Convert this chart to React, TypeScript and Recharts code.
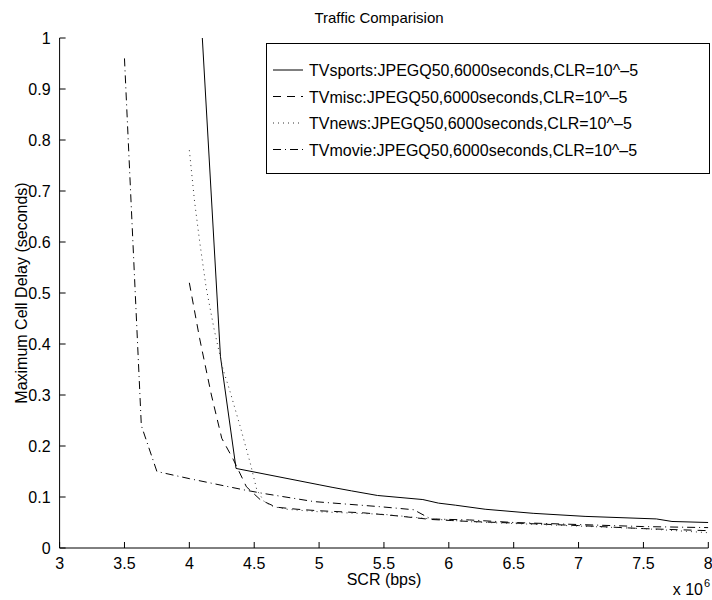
import React from 'react';
import { LineChart, Line, XAxis, YAxis, Legend, Customized } from 'recharts';

// SCR in units of 10^6 bps, delay in seconds
const sportsScr = [4.1, 4.24, 4.36, 5.0, 5.1, 5.25, 5.45, 5.8, 5.92, 6.05, 6.28, 6.65, 7.05, 7.6, 7.72, 8.0];
const sportsDelay = [1.0, 0.375, 0.156, 0.124, 0.119, 0.112, 0.103, 0.095, 0.088, 0.084, 0.076, 0.068, 0.062, 0.057, 0.052, 0.05];

const miscScr = [4.0, 4.08, 4.17, 4.25, 4.34, 4.44, 4.55, 4.67, 4.83, 5.0, 5.34, 5.6, 5.86, 6.16, 6.5, 7.0, 7.5, 8.0];
const miscDelay = [0.52, 0.41, 0.3, 0.215, 0.173, 0.12, 0.094, 0.08, 0.076, 0.073, 0.069, 0.063, 0.056, 0.052, 0.049, 0.044, 0.038, 0.034];

const newsScr = [4.0, 4.04, 4.08, 4.13, 4.19, 4.26, 4.31, 4.39, 4.47, 4.52, 4.58, 4.65, 4.75, 5.0, 5.5, 5.86, 6.2, 6.6, 7.0, 7.5, 8.0];
const newsDelay = [0.78, 0.68, 0.6, 0.51, 0.43, 0.35, 0.31, 0.24, 0.166, 0.114, 0.09, 0.081, 0.076, 0.071, 0.066, 0.057, 0.051, 0.047, 0.043, 0.038, 0.03];

const movieScr = [3.5, 3.63, 3.75, 4.0, 4.42, 4.57, 4.96, 5.47, 5.73, 5.86, 6.16, 6.5, 7.0, 7.5, 8.0];
const movieDelay = [0.96, 0.24, 0.15, 0.136, 0.114, 0.107, 0.091, 0.081, 0.075, 0.057, 0.055, 0.05, 0.046, 0.042, 0.04];

const xTicks = [3, 3.5, 4, 4.5, 5, 5.5, 6, 6.5, 7, 7.5, 8];
const yTicks = [0, 0.1, 0.2, 0.3, 0.4, 0.5, 0.6, 0.7, 0.8, 0.9, 1];

const FONT = '"Liberation Sans", Arial, Helvetica, sans-serif';
const FS = 16;

const zip = (xs: number[], ys: number[]) => xs.map((scr, i) => ({ scr, delay: ys[i] }));

const series = [
  { name: 'TVsports:JPEGQ50,6000seconds,CLR=10^\u20135', data: zip(sportsScr, sportsDelay), dash: undefined, color: '#000' },
  { name: 'TVmisc:JPEGQ50,6000seconds,CLR=10^\u20135', data: zip(miscScr, miscDelay), dash: '8 6', color: '#000' },
  { name: 'TVnews:JPEGQ50,6000seconds,CLR=10^\u20135', data: zip(newsScr, newsDelay), dash: '1 4', color: '#333' },
  { name: 'TVmovie:JPEGQ50,6000seconds,CLR=10^\u20135', data: zip(movieScr, movieDelay), dash: '8 4 1 4', color: '#000' },
];

const XTick = (props: any) => {
  const { x, y, payload } = props;
  return (
    <g>
      <line x1={x} x2={x} y1={y} y2={y - 6} stroke="#000" />
      <text x={x} y={y + 21} textAnchor="middle" fontFamily={FONT} fontSize={FS} fill="#000">
        {payload.value}
      </text>
    </g>
  );
};

const YTick = (props: any) => {
  const { x, y, payload } = props;
  return (
    <g>
      <line x1={x} x2={x + 6} y1={y} y2={y} stroke="#000" />
      <text x={x - 9} y={y + 6} textAnchor="end" fontFamily={FONT} fontSize={FS} fill="#000">
        {payload.value}
      </text>
    </g>
  );
};

const LegendBox = () => {
  const rows = [27, 53.5, 80, 106.5];
  return (
    <svg width={444} height={131} style={{ display: 'block' }}>
      <rect x={0.5} y={0.5} width={443} height={130} fill="#fff" stroke="#000" />
      {series.map((s, i) => (
        <g key={s.name}>
          <line x1={7} x2={37} y1={rows[i]} y2={rows[i]} stroke={s.color} strokeDasharray={s.dash} />
          <text x={43} y={rows[i] + 6} fontFamily={FONT} fontSize={FS} fill="#000">
            {s.name}
          </text>
        </g>
      ))}
    </svg>
  );
};

const Annotations = () => (
  <g fontFamily={FONT} fill="#000">
    <text x={379} y={23} textAnchor="middle" fontSize={15}>
      Traffic Comparision
    </text>
    <text x={384} y={585} textAnchor="middle" fontSize={FS}>
      SCR (bps)
    </text>
    <text x={27} y={293} textAnchor="middle" fontSize={FS} transform="rotate(-90 27 293)">
      Maximum Cell Delay (seconds)
    </text>
    <text x={703} y={595} textAnchor="end" fontSize={FS}>
      x 10
    </text>
    <text x={704} y={587} fontSize={11}>
      6
    </text>
  </g>
);

export default function App() {
  return (
    <div style={{ width: 712, height: 600, background: '#fff' }}>
      <style>{'body{margin:0}'}</style>
      <LineChart width={712} height={600} margin={{ top: 38, right: 3.7, bottom: 0, left: 0 }}>
        <XAxis
          type="number"
          dataKey="scr"
          domain={[3, 8]}
          ticks={xTicks}
          interval={0}
          height={52}
          tickSize={0}
          tickMargin={0}
          tickLine={false}
          tick={<XTick />}
          axisLine={{ stroke: '#000' }}
          allowDataOverflow
        />
        <YAxis
          type="number"
          domain={[0, 1]}
          ticks={yTicks}
          interval={0}
          width={59.6}
          tickSize={0}
          tickMargin={0}
          tickLine={false}
          tick={<YTick />}
          axisLine={{ stroke: '#000' }}
          allowDataOverflow
        />
        {series.map((s) => (
          <Line
            key={s.name}
            data={s.data}
            dataKey="delay"
            name={s.name}
            type="linear"
            stroke={s.color}
            strokeWidth={1}
            strokeDasharray={s.dash}
            dot={false}
            activeDot={false}
            isAnimationActive={false}
          />
        ))}
        <Legend
          layout="horizontal"
          align="center"
          verticalAlign="middle"
          content={<LegendBox />}
          wrapperStyle={{ left: 266, top: 43, width: 444, height: 131 }}
        />
        <Customized component={Annotations} />
      </LineChart>
    </div>
  );
}
